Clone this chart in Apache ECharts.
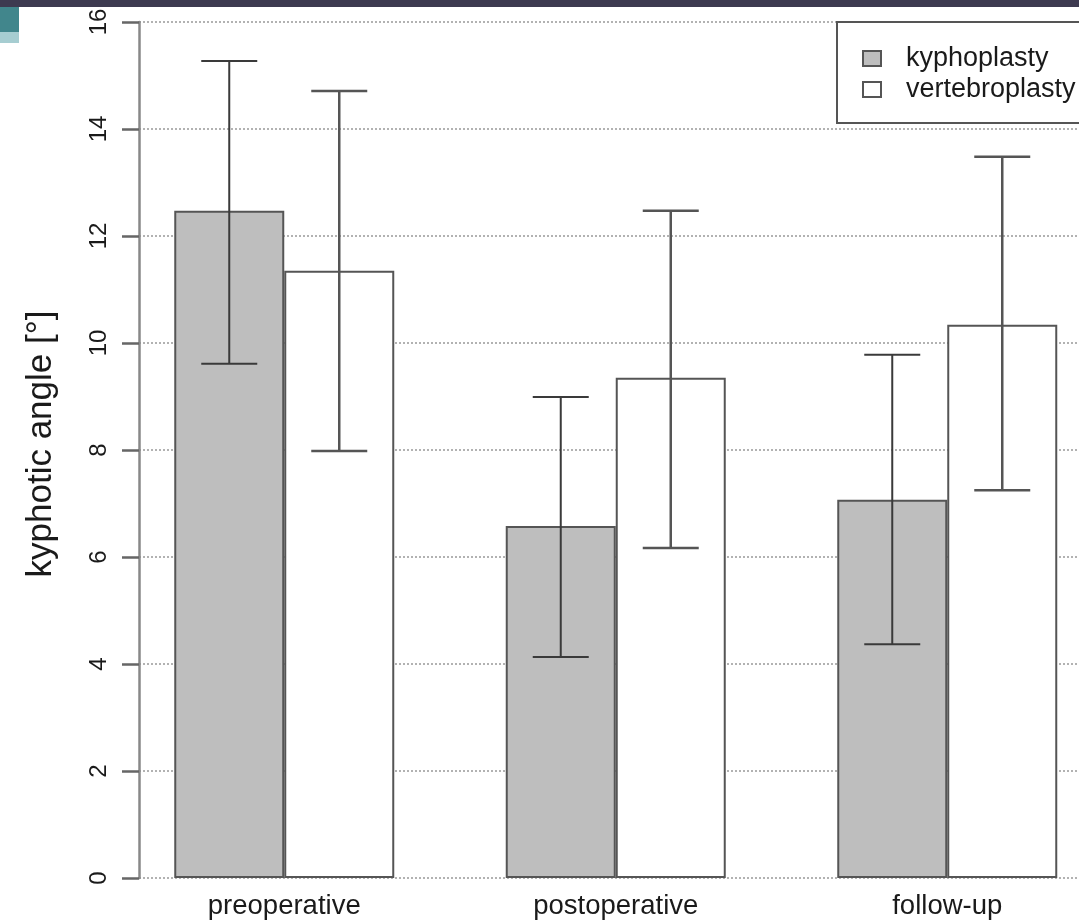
<!DOCTYPE html>
<html>
<head>
<meta charset="utf-8">
<script src="https://cdn.jsdelivr.net/npm/echarts@6/dist/echarts.min.js"></script>
<style>html,body{margin:0;padding:0;background:#fff}#c{width:1079px;height:923px}</style>
</head>
<body>
<div id="c"></div>
<script>
const categories = ['preoperative', 'postoperative', 'follow-up'];
const kyphoplasty = [12.47, 6.58, 7.07];
const vertebroplasty = [11.35, 9.35, 10.34];
const kyphoLow = [9.61, 4.13, 4.37];
const kyphoHigh = [15.27, 8.99, 9.78];
const verteLow = [7.98, 6.17, 7.25];
const verteHigh = [14.71, 12.47, 13.48];
const yTicks = [0, 2, 4, 6, 8, 10, 12, 14, 16];

const BAR_W = 110;
const FONT = '"Liberation Sans", Arial, sans-serif';

function errSeries(low, high, side, color, lw) {
  return {
    type: 'custom', xAxisIndex: 0, yAxisIndex: 0, z: 5,
    data: low.map((l, i) => [i, l, high[i]]),
    encode: { x: 0, y: [1, 2] },
    silent: true,
    renderItem: function (params, api) {
      const i = api.value(0);
      const lo = api.coord([i, api.value(1)]);
      const hi = api.coord([i, api.value(2)]);
      const x = lo[0] + side * BAR_W / 2;
      const cap = 28;
      const st = { stroke: color, lineWidth: lw };
      return {
        type: 'group',
        children: [
          { type: 'line', shape: { x1: x, y1: lo[1], x2: x, y2: hi[1] }, style: st },
          { type: 'line', shape: { x1: x - cap, y1: lo[1], x2: x + cap, y2: lo[1] }, style: st },
          { type: 'line', shape: { x1: x - cap, y1: hi[1], x2: x + cap, y2: hi[1] }, style: st }
        ]
      };
    }
  };
}

const chart = echarts.init(document.getElementById('c'));
chart.setOption({
  backgroundColor: '#fff',
  animation: false,
  textStyle: { fontFamily: FONT },
  grid: [
    { left: 118.5, width: 994.5, top: 22, bottom: 45, containLabel: false, outerBoundsMode: 'none' },
    { left: 139, right: 0, top: 22, bottom: 45, containLabel: false, outerBoundsMode: 'none' }
  ],
  xAxis: [
    {
      type: 'category', gridIndex: 0, data: categories,
      axisLine: { show: false }, axisTick: { show: false },
      axisLabel: { fontSize: 27.5, color: '#1a1a1a', margin: 14, fontFamily: FONT }
    },
    { type: 'value', gridIndex: 1, show: false, min: 0, max: 1 }
  ],
  yAxis: [
    { type: 'value', gridIndex: 0, min: 0, max: 16, interval: 2, show: false, splitLine: { show: false } },
    {
      type: 'value', gridIndex: 1, min: 0, max: 16, interval: 2,
      name: 'kyphotic angle [°]', nameLocation: 'middle', nameRotate: 90, nameGap: 80,
      nameTextStyle: { fontSize: 35, color: '#1a1a1a', fontFamily: FONT, padding: [0, 0, 0, 12] },
      axisLine: { show: true, lineStyle: { color: '#888', width: 2.5 } },
      axisTick: { show: true, length: 17, lineStyle: { color: '#666', width: 2.5 } },
      axisLabel: {
        rotate: 90, fontSize: 24, color: '#1a1a1a', margin: 28, fontFamily: FONT,
        formatter: v => (yTicks.indexOf(v) >= 0 ? String(v) : '')
      },
      splitLine: { show: true, lineStyle: { color: '#999', width: 1.5, type: [2, 2] } }
    }
  ],
  legend: {
    orient: 'vertical', left: 837, top: 22,
    data: ['kyphoplasty', 'vertebroplasty'],
    icon: 'rect',
    itemWidth: 18, itemHeight: 15, itemGap: 4,
    padding: [23, 40, 20, 25],
    backgroundColor: '#fff', borderColor: '#555', borderWidth: 2, borderRadius: 0,
    textStyle: { fontSize: 27, color: '#1a1a1a', fontFamily: FONT, padding: [0, 0, 0, 20] }
  },
  series: [
    {
      name: 'kyphoplasty', type: 'bar', xAxisIndex: 0, yAxisIndex: 0,
      data: kyphoplasty, barWidth: BAR_W, barGap: '0%', z: 3,
      itemStyle: { color: '#bebebe', borderColor: '#555', borderWidth: 2 }
    },
    {
      name: 'vertebroplasty', type: 'bar', xAxisIndex: 0, yAxisIndex: 0,
      data: vertebroplasty, barWidth: BAR_W, barGap: '0%', z: 3,
      itemStyle: { color: '#ffffff', borderColor: '#555', borderWidth: 2 }
    },
    errSeries(kyphoLow, kyphoHigh, -1, '#3a3a3a', 2),
    errSeries(verteLow, verteHigh, 1, '#555', 2.5)
  ],
  graphic: [
    { type: 'rect', shape: { x: 0, y: 0, width: 1079, height: 7 }, style: { fill: '#3d3a50' }, z: 10 },
    { type: 'rect', shape: { x: 0, y: 7, width: 19, height: 25 }, style: { fill: '#41868c' }, z: 10 },
    { type: 'rect', shape: { x: 0, y: 32, width: 19, height: 11 }, style: { fill: '#a6cdd1' }, z: 10 }
  ]
});
</script>
</body>
</html>
